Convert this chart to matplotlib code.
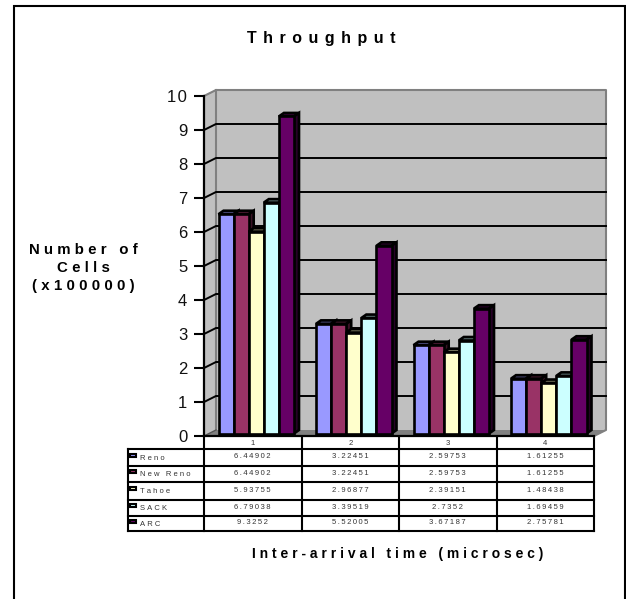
import matplotlib
matplotlib.use("Agg")
import matplotlib.pyplot as plt
from matplotlib.patches import Polygon, Rectangle

plt.rcParams["font.family"] = ["Liberation Sans", "DejaVu Sans"]

categorias = ["1", "2", "3", "4"]
series = ["Reno", "New Reno", "Tahoe", "SACK", "ARC"]
reno = [6.44902, 3.22451, 2.59753, 1.61255]
new_reno = [6.44902, 3.22451, 2.59753, 1.61255]
tahoe = [5.93755, 2.96877, 2.39151, 1.48438]
sack = [6.79038, 3.39519, 2.7352, 1.69459]
arc = [9.3252, 5.52005, 3.67187, 2.75781]
rotulos_tabela = [
    ["6.44902", "3.22451", "2.59753", "1.61255"],
    ["6.44902", "3.22451", "2.59753", "1.61255"],
    ["5.93755", "2.96877", "2.39151", "1.48438"],
    ["6.79038", "3.39519", "2.7352", "1.69459"],
    ["9.3252", "5.52005", "3.67187", "2.75781"],
]
valores = [reno, new_reno, tahoe, sack, arc]
cores = ["#9999FF", "#993366", "#FFFFCC", "#CCFFFF", "#660066"]
topos = ["#4D4D80", "#4D1A33", "#808066", "#668080", "#330033"]
lados = ["#3A3A60", "#3A1326", "#60604D", "#4D6060", "#260026"]

W, H = 626, 599
X0, X1, Y0, Y1 = 204, 594, 436, 96  # eixo frontal, em pixels
UX = (X1 - X0) / 4  # px por categoria
UY = (Y0 - Y1) / 10  # px por unidade
DX, DY = 12 / UX, 6 / UY  # profundidade da parede
BX, BY = 5 / UX, 3.5 / UY  # profundidade da barra
BASE = 2.5 / UY  # barra recuada sobre o piso
LARG = 15.1 / UX
INI = 14.5 / UX
EDGE = 1.9


def fino(s, esp="\u200a"):
    return esp.join(s)


fig = plt.figure(figsize=(W / 100, H / 100), dpi=100)
ax = fig.add_axes([X0 / W, 1 - Y0 / H, (X1 - X0) / W, (Y0 - Y1) / H])
ax.set_xlim(0, 4)
ax.set_ylim(0, 10)
ax.patch.set_alpha(0)
for s in ax.spines.values():
    s.set_visible(False)

# paredes e piso
ax.add_patch(Polygon([(DX, DY), (4 + DX, DY), (4 + DX, 10 + DY), (DX, 10 + DY)],
                     fc="#C0C0C0", ec="none", clip_on=False, zorder=1))
ax.add_patch(Polygon([(0, 0), (DX, DY), (DX, 10 + DY), (0, 10)],
                     fc="#C0C0C0", ec="none", clip_on=False, zorder=1))
ax.add_patch(Polygon([(0, 0), (4, 0), (4 + DX, DY), (DX, DY)],
                     fc="#808080", ec="none", clip_on=False, zorder=1))
ax.plot([0, DX, 4 + DX, 4 + DX, 4], [10, 10 + DY, 10 + DY, DY, 0], color="#808080",
        lw=1.5, clip_on=False, zorder=1.5)
ax.plot([DX, DX], [DY, 10 + DY], color="#808080", lw=1.5, clip_on=False, zorder=1.5)
for v in range(1, 10):
    ax.plot([0, DX, 4 + DX], [v, v + DY, v + DY], color="black", lw=1.4,
            clip_on=False, zorder=2, solid_joinstyle="miter")
ax.plot([0, DX], [0, DY], color="#555555", lw=1, clip_on=False, zorder=2)

# barras
for i, vals in enumerate(valores):
    for c, v in enumerate(vals):
        x = c + INI + i * LARG
        z = 3 + c + i * 0.1
        t = v + BASE
        ax.add_patch(Polygon([(x, t), (x + BX, t + BY), (x + LARG + BX, t + BY), (x + LARG, t)],
                             fc=topos[i], ec="black", lw=EDGE, clip_on=False, zorder=z))
        ax.add_patch(Polygon([(x + LARG, BASE), (x + LARG + BX, BASE + BY), (x + LARG + BX, t + BY), (x + LARG, t)],
                             fc=lados[i], ec="black", lw=EDGE, clip_on=False, zorder=z))
        ax.bar(x, v, LARG, bottom=BASE, align="edge", color=cores[i], edgecolor="black", lw=EDGE,
               clip_on=False, zorder=z + 0.05)

ax.set_yticks(range(0, 11), [fino(str(v)) for v in range(0, 11)])
ax.tick_params(axis="y", length=7, width=1.5, pad=5, labelsize=12, labelcolor="#111111")
ax.set_xticks([i + 0.5 for i in range(4)], categorias)
ax.tick_params(axis="x", length=0, pad=3, labelsize=5.5, labelcolor="#333333")
ax.plot([0, 0], [0, 10], color="black", lw=1.6, clip_on=False, zorder=2.5)
ax.plot([0, 4], [0, 0], color="black", lw=1.6, clip_on=False, zorder=20)

# camada em pixels: moldura, tabela de dados e titulos
ov = fig.add_axes([0, 0, 1, 1], zorder=-1)
ov.set_xlim(0, W)
ov.set_ylim(H, 0)
ov.axis("off")
ov.plot([14, 14, 625, 625], [H, 6, 6, H], color="black", lw=1.5, solid_joinstyle="miter")

cols = [204, 301.5, 399, 496.5, 594]
linhas = [449, 466, 482, 500, 516, 531]
for y in linhas:
    ov.plot([128, 594], [y, y], color="black", lw=1.5)
for x in cols:
    ov.plot([x, x], [436, 531], color="black", lw=1.5)
ov.plot([128, 128], [449, 531], color="black", lw=1.5)

for r, nome in enumerate(series):
    yc = (linhas[r] + linhas[r + 1]) / 2
    ov.add_patch(Rectangle((130, yc - 4), 6, 3, fc=cores[r], ec="black", lw=1.5))
    ov.text(140, yc + 0.5, fino(nome, "\u2009\u200a"), fontsize=5.5, color="#333333", ha="left", va="center")
    for c in range(4):
        ov.text((cols[c] + cols[c + 1]) / 2, yc - 0.5, fino(rotulos_tabela[r][c], "\u2009"), fontsize=5.5,
                color="#333333", ha="center", va="center")

ov.text(321, 38, fino("Throughput", "\u2009\u2009"), fontsize=11.5, fontweight="bold", ha="center", va="center")
ov.text(83, 268, fino("Number of", "\u2009\u200a") + "\n" + fino("Cells", "\u2009\u200a") + "\n" + fino("(x100000)", "\u2009\u200a"),
        fontsize=10.8, fontweight="bold", ha="center", va="center", linespacing=1.35)
ov.text(398, 554, fino("Inter-arrival time (microsec)", "\u2009\u200a"), fontsize=10, fontweight="bold",
        ha="center", va="center")

fig.savefig("out.png", dpi=100)
